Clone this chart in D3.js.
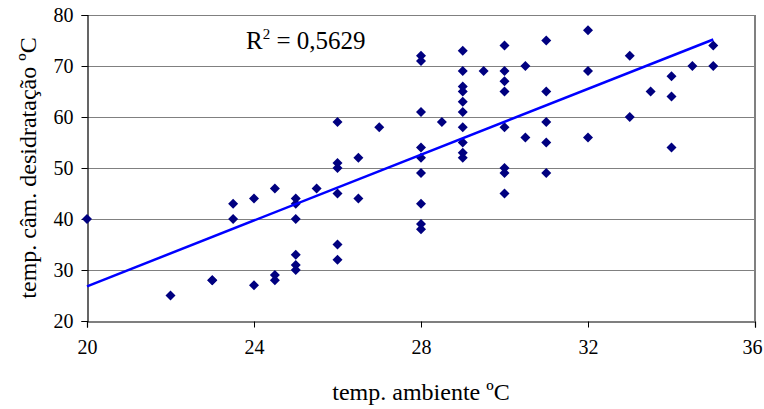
<!DOCTYPE html>
<html>
<head>
<meta charset="utf-8">
<title>temp. ambiente x temp. câm. desidratação</title>
<script src="https://d3js.org/d3.v7.min.js"></script>
<style>
body { margin: 0; background: #fff; }
text { font-family: "Liberation Serif", "Times New Roman", serif; fill: #000; }
</style>
</head>
<body>
<div id="chart"></div>
<script>
// data
var tempAmbiente = [20, 22, 23, 23, 23.5, 23.5, 24, 24, 24.5, 24.5, 24.5,
  25, 25, 25, 25, 25, 25, 25.5, 26, 26, 26, 26, 26, 26, 26.5, 26.5, 27,
  28, 28, 28, 28, 28, 28, 28, 28, 28, 28.5,
  29, 29, 29, 29, 29, 29, 29, 29, 29, 29, 29.5,
  30, 30, 30, 30, 30, 30, 30, 30, 30.5, 30.5,
  31, 31, 31, 31, 31, 32, 32, 32, 33, 33, 33.5, 34, 34, 34, 34.5, 35, 35];
var tempCamara = [40, 25, 28, 28, 43, 40, 44, 27, 46, 29, 28,
  44, 43, 40, 33, 31, 30, 46, 59, 51, 50, 45, 35, 32, 52, 44, 58,
  72, 71, 61, 54, 52, 49, 43, 39, 38, 59,
  73, 69, 66, 65, 63, 61, 58, 55, 53, 52, 69,
  74, 69, 67, 65, 58, 50, 49, 45, 70, 56,
  75, 65, 59, 55, 49, 77, 69, 56, 72, 60, 65, 68, 64, 54, 70, 74, 70];
var trendX = [20, 35];
var trendY = [26.8, 75.2];
var xTicks = [20, 24, 28, 32, 36];
var yTicks = [20, 30, 40, 50, 60, 70, 80];
var r2Label = "0,5629";

var width = 764, height = 409;
var margin = {left: 87, right: 9, top: 15, bottom: 88};
var serif = "'Liberation Serif', 'Times New Roman', serif";

var svg = d3.select("#chart").append("svg")
  .attr("width", width)
  .attr("height", height);

var x = d3.scaleLinear().domain([20, 36]).range([margin.left, width - margin.right]);
var y = d3.scaleLinear().domain([20, 80]).range([height - margin.bottom, margin.top]);

// gridlines
svg.append("g").selectAll("line")
  .data(yTicks.filter(function(d) { return d > 20; }))
  .enter().append("line")
  .attr("x1", x(20)).attr("x2", x(36))
  .attr("y1", function(d) { return Math.round(y(d)) + 0.5; })
  .attr("y2", function(d) { return Math.round(y(d)) + 0.5; })
  .attr("stroke", "#808080").attr("stroke-width", 1.2);

// right border
svg.append("line")
  .attr("x1", x(36)).attr("x2", x(36))
  .attr("y1", y(80)).attr("y2", y(20))
  .attr("stroke", "#808080").attr("stroke-width", 2);

// axes
var xAxis = svg.append("g")
  .attr("transform", "translate(0," + (Math.round(y(20)) + 0.5) + ")")
  .call(d3.axisBottom(x).tickValues(xTicks).tickSize(6).tickPadding(12).tickFormat(d3.format("d")));
var yAxis = svg.append("g")
  .attr("transform", "translate(" + (margin.left + 0.5) + ",0)")
  .call(d3.axisLeft(y).tickValues(yTicks).tickSize(6).tickPadding(8).tickFormat(d3.format("d")));

[xAxis, yAxis].forEach(function(a) {
  a.attr("font-family", null).attr("font-size", null);
  a.select(".domain").attr("stroke", "#000").attr("stroke-width", 1.2);
  a.selectAll(".tick line").attr("stroke", "#000");
  a.selectAll("text").attr("fill", "#000")
    .style("font-family", serif).style("font-size", "20px");
});
yAxis.selectAll("text").attr("dy", "0.34em");
// keep the last x label inside the picture
xAxis.selectAll(".tick text").filter(function(d) { return d === 36; }).attr("dx", -3);

// points
var diamond = "M0,-5L5,0L0,5L-5,0Z";
svg.append("g").selectAll("path")
  .data(tempAmbiente.map(function(d, i) { return [d, tempCamara[i]]; }))
  .enter().append("path")
  .attr("d", diamond)
  .attr("transform", function(d) { return "translate(" + x(d[0]) + "," + y(d[1]) + ")"; })
  .attr("fill", "#000080");

// trend line
svg.append("line")
  .attr("x1", x(trendX[0])).attr("y1", y(trendY[0]))
  .attr("x2", x(trendX[1])).attr("y2", y(trendY[1]))
  .attr("stroke", "#0000ff").attr("stroke-width", 2.5);

// R² label
var r2 = svg.append("text")
  .attr("x", 246).attr("y", 49)
  .style("font-size", "25px");
r2.append("tspan").text("R");
r2.append("tspan").attr("dy", -10).style("font-size", "15px").text("2");
r2.append("tspan").attr("dy", 10).text(" = " + r2Label);

// axis titles
svg.append("text")
  .attr("x", x(28)).attr("y", 400)
  .attr("text-anchor", "middle")
  .style("font-size", "24px")
  .text("temp. ambiente ºC");

svg.append("text")
  .attr("transform", "translate(36," + y(50) + ") rotate(-90)")
  .attr("text-anchor", "middle")
  .style("font-size", "24px")
  .text("temp. câm. desidratação ºC");
</script>
</body>
</html>
